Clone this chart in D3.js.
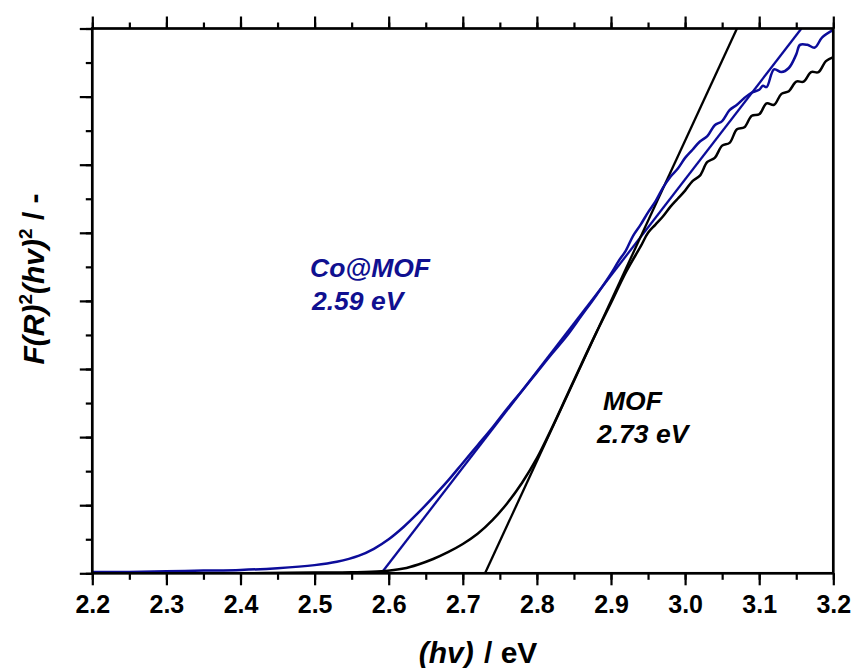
<!DOCTYPE html>
<html>
<head>
<meta charset="utf-8">
<script src="https://cdn.jsdelivr.net/npm/d3@7/dist/d3.min.js"></script>
<style>
  html, body { margin: 0; padding: 0; background: #fff; }
  svg { display: block; font-family: "Liberation Sans", Arial, sans-serif; }
</style>
</head>
<body>
<svg id="chart" width="855" height="668"></svg>
<script>
// Photon energy (eV) and Kubelka–Munk Tauc values, arbitrary units
const coMofEnergy = [2.20, 2.25, 2.30, 2.35, 2.40, 2.45, 2.50, 2.53, 2.56, 2.58, 2.60, 2.62, 2.64, 2.66, 2.68, 2.70,
  2.72, 2.74, 2.76, 2.78, 2.80, 2.82, 2.84, 2.86, 2.88, 2.90, 2.91, 2.92, 2.93, 2.94, 2.95, 2.96, 2.97, 2.98, 2.99,
  3.00, 3.01, 3.02, 3.03, 3.04, 3.05, 3.06, 3.07, 3.08, 3.09, 3.10, 3.105, 3.11, 3.12, 3.13, 3.14, 3.15, 3.155,
  3.165, 3.175, 3.185, 3.20];
const coMofValue = [0.02, 0.02, 0.03, 0.04, 0.05, 0.075, 0.12, 0.17, 0.26, 0.36, 0.50, 0.68, 0.89, 1.12, 1.36, 1.62,
  1.88, 2.14, 2.42, 2.68, 2.95, 3.22, 3.48, 3.78, 4.08, 4.40, 4.58, 4.74, 4.96, 5.12, 5.30, 5.46, 5.66, 5.82, 5.94,
  6.10, 6.22, 6.34, 6.42, 6.58, 6.64, 6.80, 6.88, 6.98, 7.06, 7.10, 7.16, 7.14, 7.40, 7.36, 7.42, 7.62, 7.76,
  7.76, 7.72, 7.87, 7.98];

const mofEnergy = [2.20, 2.30, 2.40, 2.50, 2.55, 2.59, 2.62, 2.64, 2.66, 2.68, 2.70, 2.72, 2.74, 2.76, 2.78, 2.80,
  2.82, 2.84, 2.86, 2.88, 2.90, 2.92, 2.94, 2.95, 2.96, 2.97, 2.98, 2.99, 3.00, 3.01, 3.02, 3.03, 3.04, 3.05, 3.06,
  3.07, 3.08, 3.09, 3.10, 3.11, 3.12, 3.13, 3.14, 3.15, 3.16, 3.17, 3.18, 3.19, 3.20];
const mofValue = [0.00, 0.00, 0.00, 0.01, 0.015, 0.03, 0.07, 0.13, 0.21, 0.31, 0.43, 0.58, 0.78, 1.03, 1.33, 1.69,
  2.13, 2.60, 3.07, 3.53, 3.97, 4.42, 4.80, 5.00, 5.12, 5.24, 5.38, 5.50, 5.62, 5.76, 5.84, 6.04, 6.10, 6.28, 6.32,
  6.52, 6.55, 6.72, 6.74, 6.90, 6.88, 7.04, 7.08, 7.22, 7.22, 7.36, 7.36, 7.52, 7.58];

// Linear fits: band-gap onset (x-intercept) and the energy where each fit reaches the top of the frame
const fitOnsets = [2.59, 2.73];
const fitTopEnergy = [3.157, 3.07];
const seriesNames = ["Co@MOF", "MOF"];
const gapLabels = ["2.59 eV", "2.73 eV"];

const xTicks = [2.2, 2.3, 2.4, 2.5, 2.6, 2.7, 2.8, 2.9, 3.0, 3.1, 3.2];
const yDomain = [0, 8];

const NAVY = "#0c0c9a";
const BLACK = "#000";

const svg = d3.select("#chart");
const m = { left: 92.3, right: 855 - 833.3, top: 28.5, bottom: 668 - 573.3 };
const W = 855 - m.left - m.right, H = 668 - m.top - m.bottom;

const x = d3.scaleLinear().domain([2.2, 3.2]).range([0, W]);
const y = d3.scaleLinear().domain(yDomain).range([H, 0]);

const g = svg.append("g").attr("transform", `translate(${m.left},${m.top})`);

g.append("clipPath").attr("id", "plot-clip")
  .append("rect").attr("x", 0).attr("y", -1).attr("width", W).attr("height", H + 1);

const plot = g.append("g").attr("clip-path", "url(#plot-clip)");
const straight = d3.line().x(d => x(d[0])).y(d => y(d[1]));
const smooth = d3.line().x(d => x(d[0])).y(d => y(d[1])).curve(d3.curveCatmullRom.alpha(0.5));

// Tangent fits
const fitColors = [NAVY, BLACK];
fitOnsets.forEach((e0, i) => {
  plot.append("path")
    .datum([[e0, yDomain[0]], [fitTopEnergy[i], yDomain[1]]])
    .attr("d", straight).attr("fill", "none")
    .attr("stroke", fitColors[i]).attr("stroke-width", 2.3);
});

// Measured spectra
plot.append("path").datum(mofEnergy.map((e, i) => [e, mofValue[i]]))
  .attr("d", smooth).attr("fill", "none").attr("stroke", BLACK)
  .attr("stroke-width", 2.5).attr("stroke-linejoin", "round");
plot.append("path").datum(coMofEnergy.map((e, i) => [e, coMofValue[i]]))
  .attr("d", smooth).attr("fill", "none").attr("stroke", NAVY)
  .attr("stroke-width", 2.5).attr("stroke-linejoin", "round");

// Axes
const minorX = d3.range(0, 21).map(i => 2.2 + i * 0.05);
const minorY = d3.range(0, 17).map(i => i * 0.5);

function styleAxis(sel) {
  sel.select(".domain").remove();
  sel.selectAll("line").attr("stroke", "#000").attr("stroke-width", 2.2);
}

// bottom
g.append("g").attr("transform", `translate(0,${H})`)
  .call(d3.axisBottom(x).tickValues(minorX).tickSize(6.5).tickFormat(""))
  .call(styleAxis);
const xb = g.append("g").attr("transform", `translate(0,${H})`)
  .call(d3.axisBottom(x).tickValues(xTicks).tickSize(12).tickPadding(10).tickFormat(d3.format(".1f")))
  .call(styleAxis);
xb.selectAll("text").attr("font-size", 25).attr("font-weight", "bold").attr("fill", "#000")
  .attr("dy", "0.72em").attr("font-family", "'Liberation Sans', Arial, sans-serif");

// top
g.append("g")
  .call(d3.axisTop(x).tickValues(minorX).tickSize(6).tickFormat(""))
  .call(styleAxis);
g.append("g")
  .call(d3.axisTop(x).tickValues(xTicks).tickSize(12).tickFormat(""))
  .call(styleAxis);

// left
g.append("g")
  .call(d3.axisLeft(y).tickValues(minorY).tickSize(6.5).tickFormat(""))
  .call(styleAxis);
g.append("g")
  .call(d3.axisLeft(y).tickValues(d3.range(0, 9)).tickSize(12.5).tickFormat(""))
  .call(styleAxis);

// frame
g.append("rect").attr("x", 0).attr("y", 0).attr("width", W).attr("height", H)
  .attr("fill", "none").attr("stroke", "#000").attr("stroke-width", 2.7);

// Series labels with band gaps
const labelPos = [
  { x: 310, y1: 277, y2: 310, dx2: 2 },
  { x: 603, y1: 410, y2: 443, dx2: -6 }
];
seriesNames.forEach((name, i) => {
  const col = fitColors[i];
  const t = svg.append("text").attr("font-size", 26.5).attr("font-weight", "bold")
    .attr("font-style", "italic").attr("fill", col === NAVY ? "#101090" : "#000");
  t.append("tspan").attr("x", labelPos[i].x).attr("y", labelPos[i].y1).text(name);
  t.append("tspan").attr("x", labelPos[i].x + labelPos[i].dx2).attr("y", labelPos[i].y2).text(gapLabels[i]);
});

// Axis titles
const xt = svg.append("text").attr("x", 478).attr("y", 663)
  .attr("text-anchor", "middle").attr("font-size", 30).attr("font-weight", "bold");
xt.append("tspan").attr("font-style", "italic").text("(hv)");
xt.append("tspan").attr("dx", 2).text(" / eV");

const yt = svg.append("text").attr("transform", "translate(44,279) rotate(-90)")
  .attr("text-anchor", "middle").attr("font-size", 30).attr("font-weight", "bold");
yt.append("tspan").attr("font-style", "italic").text("F(R)");
yt.append("tspan").attr("font-size", 19).attr("dy", -12).text("2");
yt.append("tspan").attr("font-style", "italic").attr("dy", 12).text("(hv)");
yt.append("tspan").attr("font-size", 19).attr("dy", -12).text("2");
yt.append("tspan").attr("dy", 12).text(" / -");
</script>
</body>
</html>
